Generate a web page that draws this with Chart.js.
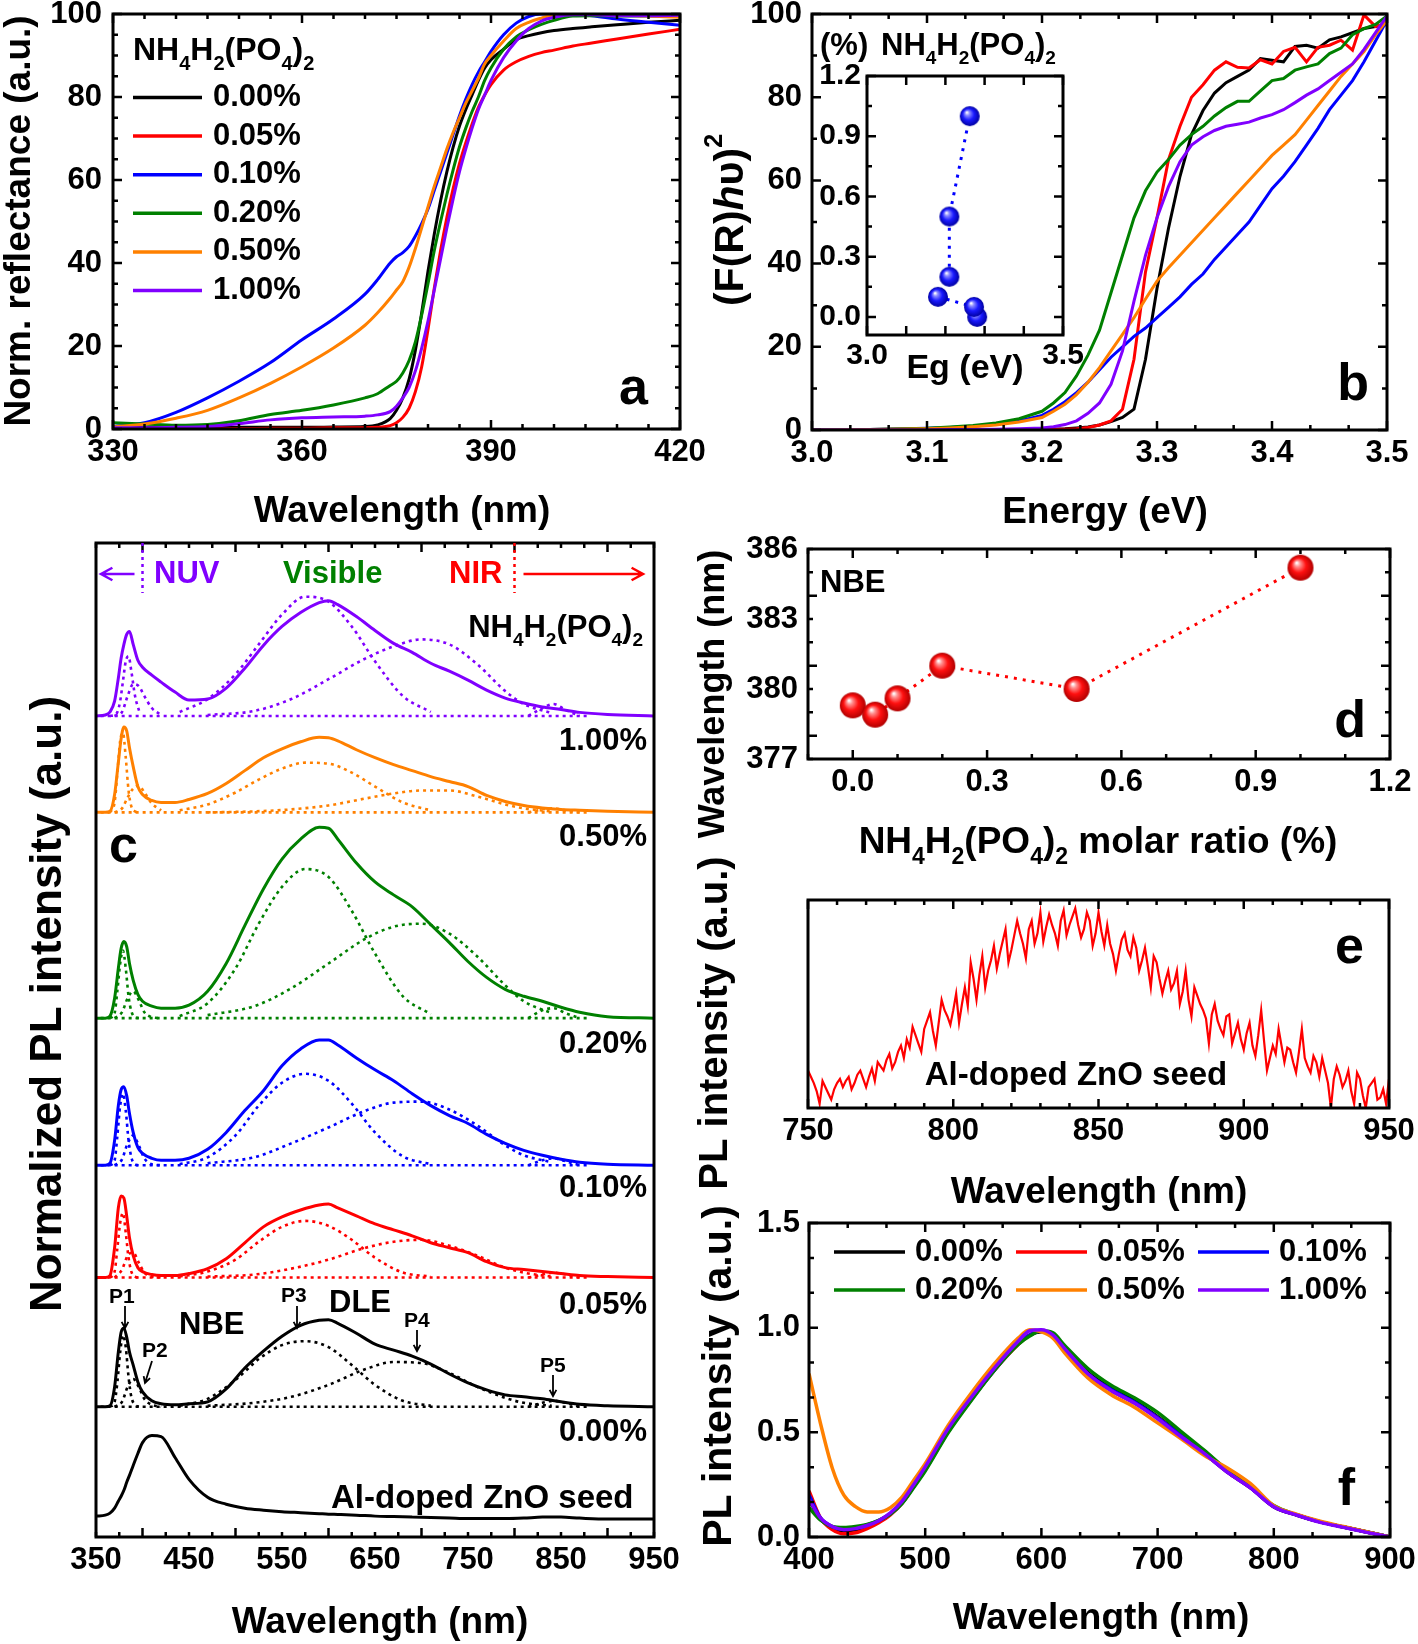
<!DOCTYPE html>
<html>
<head>
<meta charset="utf-8">
<script src="https://cdn.jsdelivr.net/npm/chart.js@4.4.0/dist/chart.umd.min.js"></script>
<style>
  html, body { margin: 0; padding: 0; background: #fff; }
  #wrap { position: relative; width: 1418px; height: 1644px; }
  #wrap canvas { position: absolute; left: 0; top: 0; }
</style>
</head>
<body>
<div id="wrap"></div>
<script>
// ── Series names / colours ───────────────────────────────────────────────────
const seriesNames  = ['0.00%', '0.05%', '0.10%', '0.20%', '0.50%', '1.00%'];
const BLACK = '#000000', RED = '#ff0000', BLUE = '#0000ff', GREEN = '#008000', ORANGE = '#ff8000', PURPLE = '#8000ff';
const seriesColors = [BLACK, RED, BLUE, GREEN, ORANGE, PURPLE];

// ── (a) reflectance ──────────────────────────────────────────────────────────
const aWl     = [330,335,340,345,350,355,360,365,370,372,374,375,376,377,378,379,380,381,382,383,384,385,386,387,388,389,390,392,394,396,398,400,403,406,410,415,420];
const aBlack  = [0.5,0.4,0.4,0.4,0.4,0.4,0.4,0.5,0.6,1.0,2.5,4.5,7.5,12,19,28,38,47,55,62,68,73,77,80.5,84,87,89,91.5,93.8,94.8,95.5,96,96.5,96.9,97.4,98,98.5];
const aRed    = [0,0,0,0,0.1,0.2,0.2,0.3,0.3,0.4,0.8,1.5,2.8,5,9,15,24,34,43,51,58,64,69,73.5,77.5,80.5,83,86.5,88.5,89.8,90.7,91.3,92.3,93,94,95.2,96.3];
const aBlue   = [0.6,1.5,4,7.5,11.5,16,21.5,26.5,32.5,36,40,41.5,42.5,44,46.5,49.5,53,57.5,62,66.5,71,75.5,79.5,83,86,88.5,91,95,97.8,99.4,100,100,100,99.6,98.8,98,97.3];
const aGreen  = [1.5,1.2,0.9,1.1,2.0,3.5,4.5,5.8,7.5,8.5,10.5,11.5,13.5,16.5,21,27.5,35,43,50,56.5,62.5,68,72.5,76.5,80,84,87,91.5,94.5,96.2,97.5,98.5,99.5,99.6,99.5,99.5,99.5];
const aOrange = [0.5,1.2,2.6,4.5,7.5,11,15,19.5,25,28,31.5,33.5,35.5,39,43.5,48.5,53.5,58.5,63,67.5,71.5,75,78.5,81.5,84.5,88,90,93.5,96.5,98,99,99.8,100,100,99.8,99.5,99.2];
const aPurple = [0.3,0.3,0.4,0.6,1.3,2.2,2.7,2.9,3.1,3.4,4.2,5.5,7.5,10,14,19.5,26,33.5,41,48.5,55.5,62,67.5,72.5,77,80.5,84,89.5,93.5,96.5,98.3,99.2,99.8,99.8,99.6,99.6,99.7];

// ── (b) Kubelka-Munk ─────────────────────────────────────────────────────────
const bEnergy = [3.00,3.05,3.10,3.12,3.14,3.16,3.18,3.20,3.21,3.22,3.23,3.24,3.25,3.26,3.27,3.28,3.29,3.30,3.31,3.32,3.33,3.34,3.35,3.36,3.37,3.38,3.39,3.40,3.41,3.42,3.43,3.44,3.45,3.46,3.47,3.48,3.49,3.50];
const bBlack  = [0,0,0,0,0,0.05,0.1,0.15,0.2,0.3,0.5,0.7,1.2,2,3,5,17,34,48.5,61,71,76.8,81,83.5,85,86.5,89.3,88.9,88.5,92.2,92.5,91.8,93.8,94.5,95.5,96.5,97,97.5];
const bRed    = [0,0,0,0,0,0,0,0,0.1,0.2,0.3,0.6,1.2,2.2,5,17,38,51,65,73,80,83,86.5,88.5,87.2,87,89,88,91,92,88.5,92,92.5,93.7,91.3,99.8,97,97.7];
const bBlue   = [0,0.1,0.4,0.6,0.9,1.4,2.2,3.5,5,6.8,9,11.5,14.5,17.5,20,22.5,24.5,27,29.5,32,35,37.5,41,44,47,50,54,58,61,64.5,68.5,72.5,77,80.5,84,88.5,93.5,98.5];
const bGreen  = [0,0.1,0.4,0.7,1.1,1.7,2.7,4.5,6.5,9,13,18,24,33,42,51,57.5,62,65,68.5,71,73,75.5,77.5,79,79,81.5,84,84.5,86.5,87.3,88,90.5,91.8,95,96.5,97.5,99.5];
const bOrange = [0,0.1,0.3,0.5,0.8,1.2,1.9,3.0,4.5,6.2,8.5,11.5,15,19,23,27,31.5,35.8,39,42,45,48,51,54,57,60,63,66,68.5,71,74.5,78,81.5,85,88,91,95,98.5];
const bPurple = [0,0,0,0.1,0.1,0.2,0.3,0.5,0.8,1.3,2.2,4,6.5,11,19,31,42,51,58.5,64.5,68.5,70.5,72,73,73.5,74,75,75.8,77,78.7,80.5,82,84,86,88,91.5,95.5,99.5];

// (b) inset: band gap vs molar ratio
const insetEg    = [3.281, 3.273, 3.181, 3.210, 3.210, 3.262];
const insetRatio = [0.00, 0.05, 0.10, 0.20, 0.50, 1.00];

// ── (c) stacked PL spectra ───────────────────────────────────────────────────
const cWl     = [350,360,365,370,374,377,380,383,386,390,395,400,410,420,435,450,470,490,510,530,550,570,590,600,610,630,650,670,690,710,730,750,770,790,810,830,850,870,900,950];
const cSeed   = [0.03,0.04,0.06,0.11,0.18,0.23,0.29,0.37,0.44,0.54,0.66,0.77,0.84,0.83,0.62,0.4,0.22,0.15,0.11,0.09,0.075,0.065,0.055,0.05,0.047,0.04,0.03,0.025,0.02,0.015,0.01,0.005,0.005,0.005,0.01,0.02,0.02,0.01,0,0];
const cBlack  = [0,0,0.01,0.2,0.55,0.75,0.79,0.7,0.55,0.42,0.25,0.15,0.06,0.03,0.02,0.03,0.05,0.18,0.39,0.56,0.71,0.82,0.87,0.875,0.84,0.74,0.63,0.57,0.51,0.43,0.33,0.24,0.17,0.12,0.1,0.08,0.05,0.025,0.01,0];
const cRed    = [0,0,0.02,0.3,0.7,0.82,0.8,0.62,0.4,0.22,0.1,0.06,0.03,0.02,0.02,0.04,0.09,0.19,0.35,0.51,0.61,0.68,0.73,0.74,0.7,0.62,0.54,0.48,0.42,0.35,0.3,0.25,0.16,0.1,0.08,0.06,0.04,0.02,0.01,0];
const cBlue   = [0,0,0.02,0.25,0.6,0.76,0.79,0.7,0.52,0.33,0.18,0.12,0.07,0.05,0.05,0.07,0.16,0.33,0.55,0.75,1.0,1.17,1.26,1.26,1.21,1.08,0.96,0.85,0.72,0.6,0.5,0.42,0.31,0.22,0.15,0.1,0.06,0.03,0.01,0];
const cGreen  = [0,0,0.02,0.2,0.5,0.7,0.77,0.72,0.55,0.38,0.24,0.17,0.12,0.1,0.1,0.13,0.27,0.55,0.93,1.3,1.6,1.8,1.92,1.91,1.8,1.56,1.37,1.24,1.12,0.94,0.76,0.57,0.41,0.29,0.22,0.17,0.11,0.06,0.015,0];
const cOrange = [0,0,0.01,0.18,0.5,0.74,0.86,0.82,0.65,0.46,0.26,0.18,0.12,0.1,0.1,0.13,0.19,0.29,0.42,0.55,0.64,0.71,0.755,0.75,0.72,0.63,0.55,0.48,0.42,0.36,0.31,0.26,0.17,0.11,0.07,0.045,0.03,0.022,0.012,0];
const cPurple = [0,0.01,0.04,0.15,0.38,0.58,0.72,0.82,0.85,0.72,0.56,0.49,0.41,0.34,0.24,0.16,0.17,0.28,0.48,0.71,0.9,1.04,1.14,1.16,1.12,1.0,0.86,0.73,0.64,0.53,0.45,0.36,0.26,0.18,0.13,0.09,0.065,0.036,0.015,0];
// vertical offsets: seed, 0.00 .. 1.00 %
const cOffsets = [0.18, 1.31, 2.61, 3.74, 5.22, 7.29, 8.26];

// Gaussian fit components (rows: 0.00, 0.05, 0.10, 0.20, 0.50, 1.00 %)
const p1Wl = [365,370,373,376,379,382,385,388,392,397];
const p1Fit = [
  [0,0.05,0.25,0.55,0.72,0.6,0.3,0.1,0.02,0],
  [0,0.06,0.3,0.55,0.65,0.45,0.2,0.06,0.01,0],
  [0,0.05,0.3,0.6,0.72,0.55,0.25,0.08,0.01,0],
  [0,0.05,0.28,0.55,0.68,0.5,0.22,0.07,0.01,0],
  [0,0.1,0.4,0.72,0.8,0.55,0.22,0.06,0.01,0],
  [0,0.01,0.04,0.15,0.35,0.55,0.6,0.45,0.2,0.03],
];
const p2Wl = [370,378,384,390,396,402,410,420];
const p2Fit = [
  [0,0.05,0.2,0.28,0.2,0.08,0.02,0],
  [0,0.08,0.22,0.25,0.15,0.05,0.01,0],
  [0,0.06,0.22,0.3,0.2,0.07,0.01,0],
  [0,0.06,0.2,0.27,0.18,0.06,0.01,0],
  [0,0.04,0.15,0.24,0.27,0.2,0.09,0.02],
  [0,0.04,0.2,0.32,0.3,0.2,0.08,0.01],
];
const p3Wl = [440,470,500,525,550,575,600,625,650,680,710];
const p3Fit = [
  [0.01,0.08,0.27,0.48,0.62,0.66,0.6,0.42,0.22,0.06,0.01],
  [0.01,0.06,0.18,0.36,0.51,0.57,0.52,0.38,0.2,0.05,0.01],
  [0.01,0.08,0.3,0.6,0.83,0.92,0.85,0.62,0.33,0.09,0.01],
  [0.02,0.15,0.5,0.95,1.32,1.5,1.42,1.08,0.65,0.22,0.04],
  [0.02,0.08,0.2,0.33,0.44,0.5,0.49,0.4,0.26,0.1,0.02],
  [0.04,0.17,0.42,0.72,1.02,1.2,1.15,0.9,0.55,0.2,0.04],
];
const p4Wl = [470,520,560,600,640,670,700,730,760,790,810,840];
const p4Fit = [
  [0.01,0.04,0.1,0.22,0.38,0.45,0.44,0.34,0.2,0.09,0.04,0.01],
  [0.01,0.03,0.09,0.18,0.3,0.36,0.38,0.32,0.22,0.1,0.05,0.01],
  [0.02,0.08,0.22,0.38,0.55,0.63,0.64,0.56,0.4,0.2,0.1,0.03],
  [0.03,0.12,0.3,0.55,0.8,0.92,0.95,0.85,0.62,0.33,0.17,0.05],
  [0,0.01,0.03,0.07,0.14,0.19,0.22,0.22,0.16,0.08,0.04,0.01],
  [0.01,0.05,0.17,0.37,0.58,0.7,0.77,0.72,0.52,0.25,0.12,0.03],
];
const p5Wl = [815,830,842,855,870];
const p5Fit = [
  [0,0.04,0.06,0.04,0],
  [0,0.03,0.05,0.03,0],
  [0,0.05,0.07,0.04,0],
  [0,0.08,0.1,0.05,0],
  [0,0.03,0.04,0.02,0],
  [0,0.08,0.12,0.06,0],
];
const fitBaseWl = [355, 880];

// ── (d) NBE peak position ────────────────────────────────────────────────────
const dRatio = [0.00, 0.05, 0.10, 0.20, 0.50, 1.00];
const dNbe   = [379.3, 378.9, 379.6, 381.0, 380.0, 385.2];

// ── (e) seed NIR emission (1 nm steps) ───────────────────────────────────────
const eWl = [
  750,751,752,753,754,755,756,757,758,759, 760,761,762,763,764,765,766,767,768,769,
  770,771,772,773,774,775,776,777,778,779, 780,781,782,783,784,785,786,787,788,789,
  790,791,792,793,794,795,796,797,798,799, 800,801,802,803,804,805,806,807,808,809,
  810,811,812,813,814,815,816,817,818,819, 820,821,822,823,824,825,826,827,828,829,
  830,831,832,833,834,835,836,837,838,839, 840,841,842,843,844,845,846,847,848,849,
  850,851,852,853,854,855,856,857,858,859, 860,861,862,863,864,865,866,867,868,869,
  870,871,872,873,874,875,876,877,878,879, 880,881,882,883,884,885,886,887,888,889,
  890,891,892,893,894,895,896,897,898,899, 900,901,902,903,904,905,906,907,908,909,
  910,911,912,913,914,915,916,917,918,919, 920,921,922,923,924,925,926,927,928,929,
  930,931,932,933,934,935,936,937,938,939, 940,941,942,943,944,945,946,947,948,949, 950];
const eInt = [
  0.18,0.15,0.12,0.08,0.02,0.13,0.1,0.07,0.04,0.09, 0.12,0.14,0.1,0.13,0.15,0.09,0.12,0.16,0.18,0.14,
  0.1,0.15,0.19,0.13,0.22,0.2,0.18,0.23,0.26,0.19, 0.22,0.27,0.3,0.24,0.33,0.29,0.39,0.35,0.31,0.27,
  0.38,0.42,0.46,0.37,0.3,0.41,0.52,0.47,0.44,0.4, 0.47,0.55,0.41,0.5,0.58,0.49,0.7,0.62,0.52,0.64,
  0.73,0.58,0.66,0.71,0.78,0.67,0.74,0.8,0.86,0.7, 0.76,0.83,0.9,0.84,0.79,0.72,0.86,0.9,0.79,0.84,
  0.94,0.8,0.87,0.93,0.88,0.84,0.78,0.9,0.95,0.83, 0.88,0.92,0.96,0.88,0.82,0.86,0.94,0.9,0.78,0.84,
  0.94,0.85,0.78,0.88,0.79,0.74,0.66,0.74,0.81,0.84, 0.76,0.73,0.82,0.77,0.66,0.71,0.77,0.68,0.58,0.73,
  0.7,0.62,0.55,0.61,0.66,0.57,0.6,0.66,0.5,0.56, 0.66,0.52,0.44,0.58,0.54,0.5,0.47,0.43,0.31,0.45,
  0.5,0.42,0.38,0.35,0.44,0.45,0.31,0.36,0.41,0.33, 0.28,0.36,0.41,0.3,0.25,0.35,0.47,0.32,0.18,0.24,
  0.3,0.26,0.38,0.3,0.22,0.29,0.28,0.22,0.17,0.27, 0.38,0.24,0.2,0.17,0.25,0.22,0.15,0.24,0.18,0.12,
  0.0,0.14,0.2,0.16,0.1,0.13,0.18,0.08,0.02,0.17, 0.14,0.06,0.0,0.1,0.12,0.14,0.04,0.05,0.09,0.02, 0.14];

// ── (f) normalised PL ────────────────────────────────────────────────────────
const fWl     = [400,410,420,430,440,450,460,470,480,490,500,520,540,560,580,590,600,610,620,640,660,680,700,720,740,760,780,800,820,840,860,880,900];
const fBlack  = [0.18,0.085,0.045,0.03,0.035,0.05,0.074,0.11,0.165,0.245,0.33,0.515,0.665,0.805,0.925,0.965,0.98,0.96,0.9,0.785,0.71,0.65,0.575,0.49,0.41,0.315,0.24,0.145,0.105,0.072,0.048,0.024,0.0];
const fRed    = [0.22,0.09,0.035,0.015,0.02,0.04,0.068,0.105,0.16,0.24,0.325,0.51,0.66,0.8,0.92,0.965,0.985,0.955,0.89,0.775,0.7,0.64,0.57,0.485,0.4,0.31,0.235,0.145,0.105,0.072,0.048,0.024,0.0];
const fBlue   = [0.2,0.09,0.05,0.04,0.045,0.058,0.078,0.11,0.162,0.24,0.32,0.505,0.66,0.8,0.925,0.965,0.985,0.96,0.9,0.78,0.705,0.645,0.57,0.485,0.4,0.31,0.235,0.145,0.105,0.072,0.048,0.024,0.0];
const fGreen  = [0.14,0.08,0.05,0.045,0.05,0.06,0.08,0.11,0.16,0.235,0.315,0.5,0.655,0.8,0.92,0.96,0.985,0.975,0.915,0.805,0.725,0.665,0.595,0.505,0.415,0.32,0.24,0.15,0.105,0.072,0.048,0.024,0.0];
const fOrange = [0.78,0.54,0.33,0.2,0.145,0.12,0.12,0.14,0.19,0.27,0.35,0.535,0.69,0.83,0.95,0.99,0.98,0.95,0.88,0.76,0.68,0.62,0.545,0.47,0.39,0.33,0.255,0.15,0.108,0.075,0.05,0.025,0.0];
const fPurple = [0.18,0.09,0.05,0.035,0.04,0.055,0.078,0.115,0.17,0.25,0.335,0.52,0.67,0.81,0.935,0.985,0.99,0.965,0.9,0.78,0.7,0.64,0.565,0.48,0.4,0.31,0.235,0.145,0.104,0.07,0.046,0.022,0.0];

// ── Page / layout helpers ────────────────────────────────────────────────────
const W = 1418, H = 1644, AXW = 80, AXH = 60;
const FONT = "'Liberation Sans', Arial, Helvetica, sans-serif";
Chart.defaults.font.family = FONT;
Chart.defaults.font.weight = 'bold';
Chart.defaults.color = '#000';

const wrap = document.getElementById('wrap');
function canvas() {
  const c = document.createElement('canvas');
  c.width = W; c.height = H;
  wrap.appendChild(c);
  return c;
}
const pts = (xs, ys, off = 0) => xs.map((x, i) => ({ x, y: ys[i] + off }));
const pad = ([L, T, R, B]) => ({ padding: { left: L - AXW, top: T, right: W - R, bottom: H - B - AXH } });
const fix1 = v => v.toFixed(1);

function scale(min, max, step, o = {}) {
  return {
    type: 'linear', min, max,
    grid: { display: false, drawTicks: false },
    border: { display: false },
    ticks: {
      display: o.show !== false, stepSize: step, includeBounds: false, autoSkip: false, maxRotation: 0,
      padding: o.pad ?? 5, font: { size: o.size || 31, weight: 'bold' }, color: '#000',
      callback: o.fmt || (v => String(v)),
    },
    afterFit: o.vertical
      ? s => { s.width = AXW; s.paddingTop = 0; s.paddingBottom = 0; }
      : s => { s.height = AXH; s.paddingLeft = 0; s.paddingRight = 0; },
  };
}

const base = {
  responsive: false, animation: false, devicePixelRatio: 1, events: [],
  plugins: { legend: { display: false }, tooltip: { enabled: false } },
};

// rich text: runs of [text, kind] where kind is '', 'sub', 'sup' or 'i'
function drawRuns(ctx, runs, x, y, size, align, color, baseline) {
  const fontFor = k => `${k === 'i' ? 'italic ' : ''}bold ${k === 'sub' || k === 'sup' ? Math.round(size * 0.62) : size}px ${FONT}`;
  ctx.textBaseline = baseline || 'alphabetic';
  ctx.textAlign = 'left';
  let total = 0;
  runs.forEach(([t, k]) => { ctx.font = fontFor(k); total += ctx.measureText(t).width; });
  let cx = align === 'center' ? x - total / 2 : align === 'right' ? x - total : x;
  ctx.fillStyle = color || '#000';
  runs.forEach(([t, k]) => {
    ctx.font = fontFor(k);
    const dy = k === 'sub' ? size * 0.3 : k === 'sup' ? -size * 0.42 : 0;
    ctx.fillText(t, cx, y + dy);
    cx += ctx.measureText(t).width;
  });
}

function notes(items) {
  return {
    id: 'notes',
    afterDraw(chart) {
      const ctx = chart.ctx;
      items.forEach(n => {
        const runs = n.runs || [[n.t, '']];
        ctx.save();
        if (n.rot) {
          ctx.translate(n.x, n.y);
          ctx.rotate(-Math.PI / 2);
          drawRuns(ctx, runs, 0, 0, n.size, 'center', n.color, 'middle');
        } else {
          drawRuns(ctx, runs, n.x, n.y, n.size, n.align || 'left', n.color, n.base);
        }
        ctx.restore();
      });
    },
  };
}

// box + inward ticks (major/minor) on chosen sides
function frame(o) {
  return {
    id: 'frame',
    afterDatasetsDraw(chart) {
      const { ctx, chartArea: a } = chart;
      const marks = (sc, [major, minor], draw) => {
        for (let k = Math.ceil(sc.min / minor - 1e-6); k * minor <= sc.max + 1e-9; k++) {
          const v = k * minor, r = v / major;
          draw(sc.getPixelForValue(v), Math.abs(r - Math.round(r)) < 1e-6 ? 9 : 5);
        }
      };
      ctx.save();
      ctx.strokeStyle = '#000';
      ctx.lineWidth = 2.5;
      ctx.beginPath();
      if (o.x) marks(chart.scales.x, o.x, (p, len) => {
        if (o.sides.includes('b')) { ctx.moveTo(p, a.bottom); ctx.lineTo(p, a.bottom - len); }
        if (o.sides.includes('t')) { ctx.moveTo(p, a.top); ctx.lineTo(p, a.top + len); }
      });
      if (o.y) marks(chart.scales.y, o.y, (p, len) => {
        if (o.sides.includes('l')) { ctx.moveTo(a.left, p); ctx.lineTo(a.left + len, p); }
        if (o.sides.includes('r')) { ctx.moveTo(a.right, p); ctx.lineTo(a.right - len, p); }
      });
      ctx.stroke();
      ctx.lineWidth = 3;
      ctx.strokeRect(a.left, a.top, a.right - a.left, a.bottom - a.top);
      ctx.restore();
    },
  };
}

// legend: line sample + label, laid out in rows/cols
function lineLegend(o) {
  return {
    id: 'lineLegend',
    afterDraw(chart) {
      const ctx = chart.ctx;
      ctx.save();
      ctx.font = `bold ${o.size}px ${FONT}`;
      ctx.textBaseline = 'middle';
      ctx.textAlign = 'left';
      chart.data.datasets.filter(d => d.inLegend).forEach((d, i) => {
        const x = o.x + (i % o.cols) * o.colW, y = o.y + Math.floor(i / o.cols) * o.rowH;
        ctx.strokeStyle = d.borderColor;
        ctx.lineWidth = 3.5;
        ctx.beginPath(); ctx.moveTo(x, y); ctx.lineTo(x + o.len, y); ctx.stroke();
        ctx.fillStyle = '#000';
        ctx.fillText(d.label, x + o.len + o.gap, y);
      });
      ctx.restore();
    },
  };
}

function arrow(ctx, x1, y1, x2, y2, color, head, width) {
  const ang = Math.atan2(y2 - y1, x2 - x1);
  ctx.strokeStyle = color;
  ctx.lineWidth = width;
  ctx.beginPath();
  ctx.moveTo(x1, y1); ctx.lineTo(x2, y2);
  ctx.moveTo(x2 - head * Math.cos(ang - 0.5), y2 - head * Math.sin(ang - 0.5));
  ctx.lineTo(x2, y2);
  ctx.lineTo(x2 - head * Math.cos(ang + 0.5), y2 - head * Math.sin(ang + 0.5));
  ctx.stroke();
}

// shaded ball used as point style
function sphere(r, light, mid, dark) {
  const c = document.createElement('canvas');
  c.width = c.height = 2 * r + 2;
  const g = c.getContext('2d');
  const m = r + 1;
  const grad = g.createRadialGradient(m - r * 0.3, m - r * 0.38, r * 0.04, m, m, r);
  grad.addColorStop(0, '#ffffff');
  grad.addColorStop(0.2, light);
  grad.addColorStop(0.55, mid);
  grad.addColorStop(1, dark);
  g.fillStyle = grad;
  g.beginPath(); g.arc(m, m, r, 0, Math.PI * 2); g.fill();
  return c;
}

const NH = [['NH', ''], ['4', 'sub'], ['H', ''], ['2', 'sub'], ['(PO', ''], ['4', 'sub'], [')', ''], ['2', 'sub']];

// ── Panel boxes (plot areas in page pixels) ──────────────────────────────────
const boxA = [113, 14, 680, 429];
const boxB = [812, 14, 1387, 430];
const boxInset = [867, 76, 1063, 335];
const boxC = [96, 543, 654, 1537];
const boxD = [808, 549, 1390, 759];
const boxE = [808, 900, 1389, 1108];
const boxF = [809, 1223, 1390, 1537];

// ── (a) ──────────────────────────────────────────────────────────────────────
const aSeries = [aBlack, aRed, aBlue, aGreen, aOrange, aPurple];
new Chart(canvas(), {
  type: 'line',
  data: {
    datasets: seriesNames.map((label, i) => ({
      label, data: pts(aWl, aSeries[i]), borderColor: seriesColors[i], borderWidth: 3,
      pointRadius: 0, tension: 0.3, cubicInterpolationMode: 'monotone', order: 5 - i, inLegend: true,
    })),
  },
  options: { ...base, layout: pad(boxA), scales: { x: scale(330, 420, 30), y: scale(0, 100, 20, { vertical: true, pad: 11 }) } },
  plugins: [
    frame({ x: [30, 5], y: [20, 5], sides: 'tblr' }),
    lineLegend({ x: 133, y: 97.5, cols: 1, colW: 0, rowH: 38.6, len: 69, gap: 11, size: 31 }),
    notes([
      { runs: NH, x: 133, y: 60, size: 32 },
      { t: 'a', x: 648, y: 404, size: 52, align: 'right' },
      { t: 'Norm. reflectance (a.u.)', x: 20, y: 221, size: 37, rot: true },
      { t: 'Wavelength (nm)', x: 402, y: 522, size: 37, align: 'center' },
    ]),
  ],
});

// ── (b) ──────────────────────────────────────────────────────────────────────
const bSeries = [bBlack, bRed, bBlue, bGreen, bOrange, bPurple];
new Chart(canvas(), {
  type: 'line',
  data: {
    datasets: seriesNames.map((label, i) => ({
      label, data: pts(bEnergy, bSeries[i]), borderColor: seriesColors[i], borderWidth: 3,
      pointRadius: 0, tension: 0, order: 5 - i,
    })),
  },
  options: { ...base, layout: pad(boxB), scales: { x: scale(3.0, 3.5, 0.1, { fmt: fix1 }), y: scale(0, 100, 20, { vertical: true, pad: 10 }) } },
  plugins: [
    frame({ x: [0.1, 0.1 / 3], y: [20, 10], sides: 'tblr' }),
    notes([
      { t: '(%)', x: 820, y: 55, size: 31 },
      { runs: NH, x: 881, y: 55, size: 31 },
      { t: 'Eg (eV)', x: 965, y: 378, size: 34, align: 'center' },
      { t: 'b', x: 1369, y: 400, size: 52, align: 'right' },
      { runs: [['(F(R)', ''], ['h', 'i'], ['\u03c5)', ''], ['2', 'sup']], x: 732, y: 220, size: 41, rot: true },
      { t: 'Energy (eV)', x: 1105, y: 523, size: 37, align: 'center' },
    ]),
  ],
});

// (b) inset
new Chart(canvas(), {
  type: 'scatter',
  data: {
    datasets: [{
      label: 'Eg', data: pts(insetEg, insetRatio), showLine: true, borderColor: BLUE, borderWidth: 3,
      borderDash: [3, 6], pointStyle: sphere(10, '#8c8cff', '#1a1aff', '#0000a0'), pointRadius: 10, clip: false,
    }],
  },
  options: {
    ...base, layout: pad(boxInset),
    scales: {
      x: scale(3.0, 3.5, 0.1, { size: 30, pad: 3, fmt: v => (Math.abs(v - 3) < 1e-6 || Math.abs(v - 3.5) < 1e-6) ? v.toFixed(1) : '' }),
      y: scale(-0.09, 1.2, 0.3, { vertical: true, size: 30, pad: 6, fmt: fix1 }),
    },
  },
  plugins: [frame({ x: [0.1, 0.1], y: [0.3, 0.15], sides: 'tblr' })],
});

// ── (c) ──────────────────────────────────────────────────────────────────────
const cSolid = [cSeed, cBlack, cRed, cBlue, cGreen, cOrange, cPurple];
const cColors = [BLACK, BLACK, RED, BLUE, GREEN, ORANGE, PURPLE];
const cDatasets = cSolid.map((ys, i) => ({
  label: i ? seriesNames[i - 1] : 'seed', data: pts(cWl, ys, cOffsets[i]), borderColor: cColors[i],
  borderWidth: 3, pointRadius: 0, tension: 0.35, cubicInterpolationMode: 'monotone', order: 0,
}));
const fitSets = [[p1Wl, p1Fit], [p2Wl, p2Fit], [p3Wl, p3Fit], [p4Wl, p4Fit], [p5Wl, p5Fit]];
seriesNames.forEach((name, k) => {
  const off = cOffsets[k + 1], col = seriesColors[k];
  const dotted = { borderColor: col, borderWidth: 2.6, borderDash: [3, 4], pointRadius: 0, tension: 0.35, cubicInterpolationMode: 'monotone', order: 1 };
  fitSets.forEach(([xs, rows], j) => cDatasets.push({ label: `${name} P${j + 1}`, data: pts(xs, rows[k], off), ...dotted }));
  cDatasets.push({ label: `${name} base`, data: pts(fitBaseWl, [0, 0], off), ...dotted });
});

const cMarks = {
  id: 'cMarks',
  afterDatasetsDraw(chart) {
    const { ctx, chartArea: a, scales: { x } } = chart;
    ctx.save();
    ctx.lineWidth = 2.5;
    ctx.setLineDash([3, 4]);
    [[400, PURPLE], [800, RED]].forEach(([v, col]) => {
      const px = x.getPixelForValue(v);
      ctx.strokeStyle = col;
      ctx.beginPath(); ctx.moveTo(px, a.top); ctx.lineTo(px, a.top + 50); ctx.stroke();
    });
    ctx.setLineDash([]);
    arrow(ctx, x.getPixelForValue(400) - 8, 574, a.left + 5, 574, PURPLE, 13, 2.5);
    arrow(ctx, x.getPixelForValue(800) + 9, 574, 643, 574, RED, 13, 2.5);
    [[125, 1306, 125, 1328], [152, 1361, 145, 1383], [297, 1306, 297, 1328], [417, 1330, 417, 1351], [553, 1375, 553, 1396]]
      .forEach(([x1, y1, x2, y2]) => arrow(ctx, x1, y1, x2, y2, BLACK, 7, 1.8));
    ctx.restore();
  },
};

new Chart(canvas(), {
  type: 'line',
  data: { datasets: cDatasets },
  options: { ...base, layout: pad(boxC), scales: { x: scale(350, 950, 100), y: scale(0, 10, 1, { vertical: true, show: false }) } },
  plugins: [
    frame({ x: [100, 25], sides: 'tb' }),
    cMarks,
    notes([
      { t: 'NUV', x: 154, y: 574, size: 31, color: PURPLE, base: 'middle' },
      { t: 'Visible', x: 283, y: 574, size: 31, color: GREEN, base: 'middle' },
      { t: 'NIR', x: 449, y: 574, size: 31, color: RED, base: 'middle' },
      { runs: NH, x: 643, y: 637, size: 31, align: 'right' },
      { t: '1.00%', x: 647, y: 741, size: 31, align: 'right', base: 'middle' },
      { t: '0.50%', x: 647, y: 837, size: 31, align: 'right', base: 'middle' },
      { t: '0.20%', x: 647, y: 1044, size: 31, align: 'right', base: 'middle' },
      { t: '0.10%', x: 647, y: 1188, size: 31, align: 'right', base: 'middle' },
      { t: '0.05%', x: 647, y: 1305, size: 31, align: 'right', base: 'middle' },
      { t: '0.00%', x: 647, y: 1432, size: 31, align: 'right', base: 'middle' },
      { t: 'c', x: 109, y: 862, size: 52 },
      { t: 'NBE', x: 179, y: 1325, size: 31, base: 'middle' },
      { t: 'DLE', x: 329, y: 1303, size: 31, base: 'middle' },
      { t: 'P1', x: 109, y: 1297, size: 21, base: 'middle' },
      { t: 'P2', x: 142, y: 1351, size: 21, base: 'middle' },
      { t: 'P3', x: 281, y: 1296, size: 21, base: 'middle' },
      { t: 'P4', x: 404, y: 1321, size: 21, base: 'middle' },
      { t: 'P5', x: 540, y: 1366, size: 21, base: 'middle' },
      { t: 'Al-doped ZnO seed', x: 331, y: 1508, size: 33 },
      { t: 'Normalized PL intensity (a.u.)', x: 49, y: 1004, size: 44, rot: true },
      { t: 'Wavelength (nm)', x: 380, y: 1633, size: 37, align: 'center' },
    ]),
  ],
});

// ── (d) ──────────────────────────────────────────────────────────────────────
new Chart(canvas(), {
  type: 'scatter',
  data: {
    datasets: [{
      label: 'NBE', data: pts(dRatio, dNbe), showLine: true, borderColor: RED, borderWidth: 3,
      borderDash: [3, 6], pointStyle: sphere(13, '#ff9090', '#ff1010', '#b00000'), pointRadius: 13, clip: false,
    }],
  },
  options: { ...base, layout: pad(boxD), scales: { x: scale(-0.1, 1.2, 0.3, { fmt: fix1 }), y: scale(377, 386, 3, { vertical: true, pad: 10 }) } },
  plugins: [
    frame({ x: [0.3, 0.1], y: [3, 1], sides: 'tblr' }),
    notes([
      { t: 'NBE', x: 820, y: 592, size: 31 },
      { t: 'd', x: 1366, y: 737, size: 52, align: 'right' },
      { t: 'Wavelength (nm)', x: 714, y: 694, size: 36, rot: true },
      { runs: [...NH, [' molar ratio (%)', '']], x: 1098, y: 853, size: 37, align: 'center' },
    ]),
  ],
});

// ── (e) ──────────────────────────────────────────────────────────────────────
new Chart(canvas(), {
  type: 'line',
  data: { datasets: [{ label: 'Al-doped ZnO seed', data: pts(eWl, eInt), borderColor: RED, borderWidth: 2.2, pointRadius: 0, tension: 0 }] },
  options: { ...base, layout: pad(boxE), scales: { x: scale(750, 950, 50), y: scale(0, 1, 0.5, { vertical: true, show: false }) } },
  plugins: [
    frame({ x: [50, 10], sides: 'tb' }),
    notes([
      { t: 'Al-doped ZnO seed', x: 1076, y: 1085, size: 33, align: 'center' },
      { t: 'e', x: 1364, y: 963, size: 52, align: 'right' },
      { t: 'PL intensity (a.u.)', x: 716, y: 1023, size: 40, rot: true },
      { t: 'Wavelength (nm)', x: 1099, y: 1203, size: 37, align: 'center' },
    ]),
  ],
});

// ── (f) ──────────────────────────────────────────────────────────────────────
const fSeries = [fBlack, fRed, fBlue, fGreen, fOrange, fPurple];
new Chart(canvas(), {
  type: 'line',
  data: {
    datasets: seriesNames.map((label, i) => ({
      label, data: pts(fWl, fSeries[i]), borderColor: seriesColors[i], borderWidth: 3.5,
      pointRadius: 0, tension: 0.3, cubicInterpolationMode: 'monotone', order: 5 - i, inLegend: true,
    })),
  },
  options: { ...base, layout: pad(boxF), scales: { x: scale(400, 900, 100), y: scale(0, 1.5, 0.5, { vertical: true, pad: 9, fmt: fix1 }) } },
  plugins: [
    frame({ x: [100, 100 / 3], y: [0.5, 0.5 / 3], sides: 'tblr' }),
    lineLegend({ x: 834, y: 1252, cols: 3, colW: 182, rowH: 38, len: 71, gap: 10, size: 31 }),
    notes([
      { t: 'f', x: 1355, y: 1505, size: 52, align: 'right' },
      { t: 'PL intensity (a.u.)', x: 720, y: 1376, size: 41, rot: true },
      { t: 'Wavelength (nm)', x: 1101, y: 1629, size: 37, align: 'center' },
    ]),
  ],
});
</script>
</body>
</html>
